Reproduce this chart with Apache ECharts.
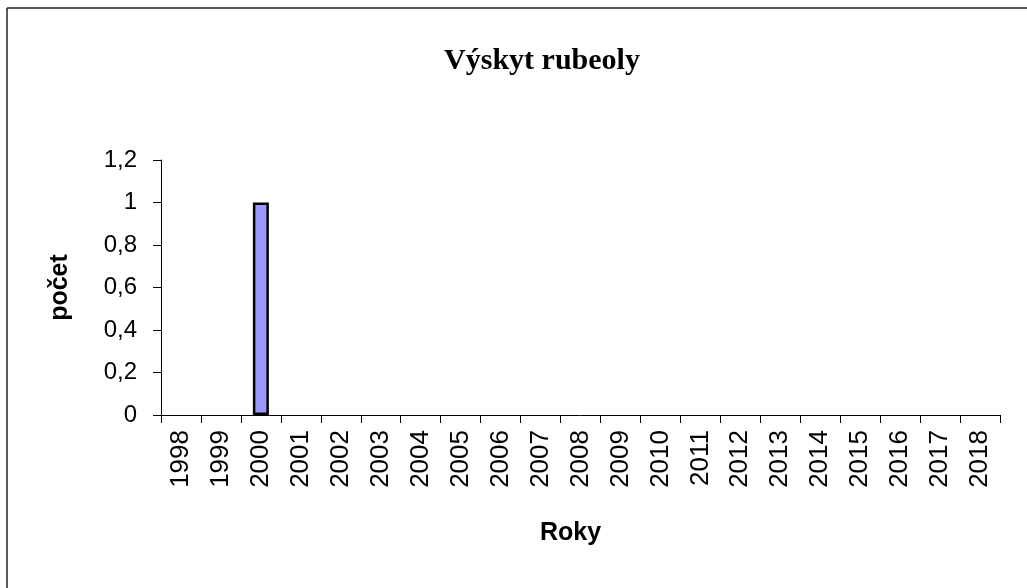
<!DOCTYPE html>
<html>
<head>
<meta charset="utf-8">
<script src="https://cdn.jsdelivr.net/npm/echarts@6/dist/echarts.min.js"></script>
<style>
html,body{margin:0;padding:0;background:#fff;}
#c{width:1027px;height:588px;}
</style>
</head>
<body>
<div id="c"></div>
<script>
const titleText = 'Výskyt rubeoly';
const xAxisName = 'Roky';
const yAxisName = 'počet';
const years = ['1998','1999','2000','2001','2002','2003','2004','2005','2006','2007','2008','2009','2010','2011','2012','2013','2014','2015','2016','2017','2018'];
const counts = [0,0,1,0,0,0,0,0,0,0,0,0,0,0,0,0,0,0,0,0,0];

const chart = echarts.init(document.getElementById('c'), null, {renderer:'canvas'});
chart.setOption({
  backgroundColor:'#fff',
  animation:false,
  title:{
    text:titleText, left:537, top:56, textAlign:'center', textVerticalAlign:'middle',
    textStyle:{fontFamily:'Liberation Serif', fontWeight:'bold', fontSize:30, color:'#000'}
  },
  graphic:[
    {type:'line', shape:{x1:7,y1:8,x2:1027,y2:8}, style:{stroke:'#222', lineWidth:1.5}},
    {type:'line', shape:{x1:7,y1:8,x2:7,y2:588}, style:{stroke:'#222', lineWidth:1.5}},
    {type:'text', left:540, top:521, style:{text:xAxisName, font:'bold 25px "Liberation Sans"', fill:'#000'}}
  ],
  grid:{left:161, top:160, right:27, bottom:173, containLabel:false},
  xAxis:{
    type:'category', data:years,
    axisLine:{lineStyle:{color:'#000', width:1}},
    axisTick:{show:true, length:8, lineStyle:{color:'#000'}},
    axisLabel:{rotate:90, margin:15, fontFamily:'Liberation Sans', fontSize:26, color:'#000', interval:0}
  },
  yAxis:{
    type:'value', min:0, max:1.2, interval:0.2,
    name:yAxisName, nameLocation:'middle', nameGap:88, nameRotate:90,
    nameTextStyle:{fontFamily:'Liberation Sans', fontWeight:'bold', fontSize:25, color:'#000'},
    axisLine:{show:true, lineStyle:{color:'#000', width:1}},
    axisTick:{show:true, length:8, lineStyle:{color:'#000'}},
    splitLine:{show:false},
    axisLabel:{margin:24, fontFamily:'Liberation Sans', fontSize:24, color:'#000',
      formatter:function(v){return String(Math.round(v*10)/10).replace('.',',');}}
  },
  series:[{
    type:'bar', barWidth:16,
    data:counts.map(function(v){return v === 0 ? {value:v, itemStyle:{borderWidth:0}} : v;}),
    itemStyle:{color:'#9999FF', borderColor:'#000', borderWidth:2.5}
  }]
});
</script>
</body>
</html>
